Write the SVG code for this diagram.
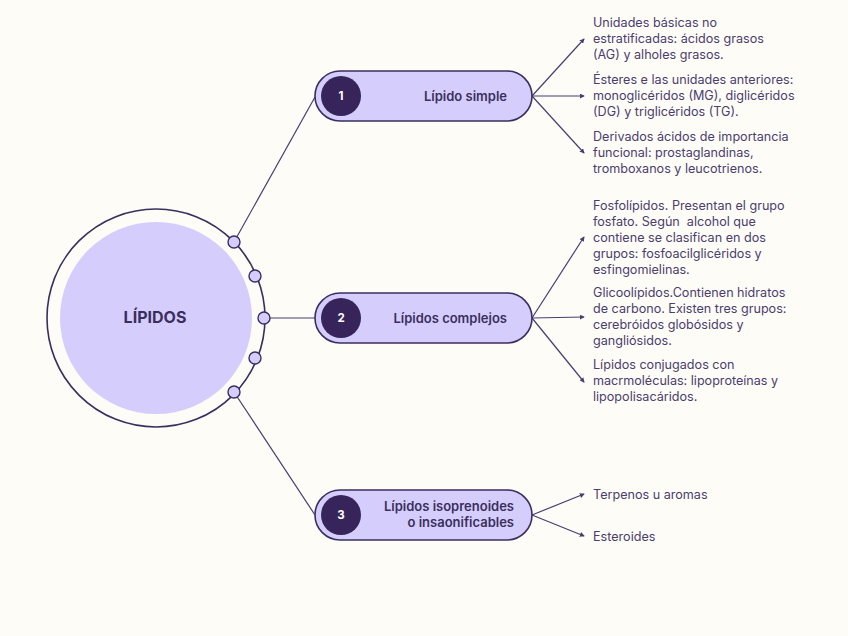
<svg xmlns="http://www.w3.org/2000/svg" width="848" height="636" viewBox="0 0 848 636">
<defs>
<style>
.bg{fill:#FEFCF7}
.pill{fill:#D5CEFC;stroke:#3B2E5E;stroke-width:1.6}
.num{fill:#36245B}
.numt{font-family:"Inter","Liberation Sans",sans-serif;font-size:11.5px;font-weight:bold;fill:#FFFFFF;text-anchor:middle}
.lbl{font-family:"Inter","Liberation Sans",sans-serif;font-size:13px;font-weight:600;fill:#3B2E5E;text-anchor:end}
.txt{font-family:"Inter","Liberation Sans",sans-serif;font-size:12.6px;fill:#4A3E6E}
.line{stroke:#4A3E6E;stroke-width:1.2;fill:none}
.arr{stroke:#4A3E6E;stroke-width:1.2;fill:none;marker-end:url(#ah)}
.dot{fill:#D5CEFC;stroke:#3B2E5E;stroke-width:1.4}
</style>
<marker id="ah" viewBox="0 0 6 6" refX="5" refY="3" markerWidth="5" markerHeight="5" orient="auto" markerUnits="userSpaceOnUse">
<path d="M0,0 L6,3 L0,6 z" fill="#4A3E6E"/>
</marker>
</defs>
<rect class="bg" x="0" y="0" width="848" height="636"/>
<g id="connectors">
<line class="line" x1="234" y1="242" x2="315" y2="97"/>
<line class="line" x1="264" y1="318" x2="315" y2="318"/>
<line class="line" x1="234" y1="392" x2="315" y2="515"/>
<line class="arr" x1="532" y1="96" x2="584" y2="39"/>
<line class="arr" x1="532" y1="96" x2="584" y2="96"/>
<line class="arr" x1="532" y1="96" x2="584" y2="153"/>
<line class="arr" x1="532" y1="318" x2="584" y2="237"/>
<line class="arr" x1="532" y1="318" x2="584" y2="317"/>
<line class="arr" x1="532" y1="318" x2="584" y2="382"/>
<line class="arr" x1="532" y1="515" x2="584" y2="494"/>
<line class="arr" x1="532" y1="515" x2="584" y2="536"/>
</g>
<g id="root">
<circle cx="156" cy="318" r="109" fill="none" stroke="#3B2E5E" stroke-width="1.6"/>
<circle cx="156" cy="318" r="96" fill="#D5CEFC"/>
<text x="155" y="323" font-family="Inter, 'Liberation Sans', sans-serif" font-size="16" font-weight="bold" fill="#3B2E5E" text-anchor="middle">LÍPIDOS</text>
<circle class="dot" cx="234" cy="242" r="6"/>
<circle class="dot" cx="255" cy="276" r="6"/>
<circle class="dot" cx="264" cy="318" r="6"/>
<circle class="dot" cx="255" cy="358" r="6"/>
<circle class="dot" cx="234" cy="392" r="6"/>
</g>
<g id="node1">
<rect class="pill" x="315" y="71" width="217" height="50" rx="25"/>
<circle class="num" cx="341" cy="96" r="20"/>
<text class="numt" x="341" y="100">1</text>
<text class="lbl" x="507" y="101">Lípido simple</text>
</g>
<g id="node2">
<rect class="pill" x="315" y="293" width="217" height="50" rx="25"/>
<circle class="num" cx="341" cy="318" r="20"/>
<text class="numt" x="341" y="322">2</text>
<text class="lbl" x="507" y="323">Lípidos complejos</text>
</g>
<g id="node3">
<rect class="pill" x="315" y="490" width="217" height="50" rx="25"/>
<circle class="num" cx="341" cy="515" r="20"/>
<text class="numt" x="341" y="519">3</text>
<text class="lbl" x="514" y="511">Lípidos isoprenoides</text>
<text class="lbl" x="514" y="527">o insaonificables</text>
</g>
<g id="leaf1a"><text class="txt" x="593" y="27">Unidades básicas no</text><text class="txt" x="593" y="43">estratificadas: ácidos grasos</text><text class="txt" x="593" y="59">(AG) y alholes grasos.</text></g>
<g id="leaf1b"><text class="txt" x="593" y="84">Ésteres e las unidades anteriores:</text><text class="txt" x="593" y="100">monoglicéridos (MG), diglicéridos</text><text class="txt" x="593" y="116">(DG) y triglicéridos (TG).</text></g>
<g id="leaf1c"><text class="txt" x="593" y="141">Derivados ácidos de importancia</text><text class="txt" x="593" y="157">funcional: prostaglandinas,</text><text class="txt" x="593" y="173">tromboxanos y leucotrienos.</text></g>
<g id="leaf2a"><text class="txt" x="593" y="210">Fosfolípidos. Presentan el grupo</text><text class="txt" x="593" y="226" xml:space="preserve">fosfato. Según  alcohol que</text><text class="txt" x="593" y="242">contiene se clasifican en dos</text><text class="txt" x="593" y="258">grupos: fosfoacilglicéridos y</text><text class="txt" x="593" y="274">esfingomielinas.</text></g>
<g id="leaf2b"><text class="txt" x="593" y="297">Glicoolípidos.Contienen hidratos</text><text class="txt" x="593" y="313">de carbono. Existen tres grupos:</text><text class="txt" x="593" y="329">cerebróidos globósidos y</text><text class="txt" x="593" y="345">gangliósidos.</text></g>
<g id="leaf2c"><text class="txt" x="593" y="369">Lípidos conjugados con</text><text class="txt" x="593" y="385">macrmoléculas: lipoproteínas y</text><text class="txt" x="593" y="401">lipopolisacáridos.</text></g>
<g id="leaf3a"><text class="txt" x="593" y="499">Terpenos u aromas</text></g>
<g id="leaf3b"><text class="txt" x="593" y="541">Esteroides</text></g>
</svg>
